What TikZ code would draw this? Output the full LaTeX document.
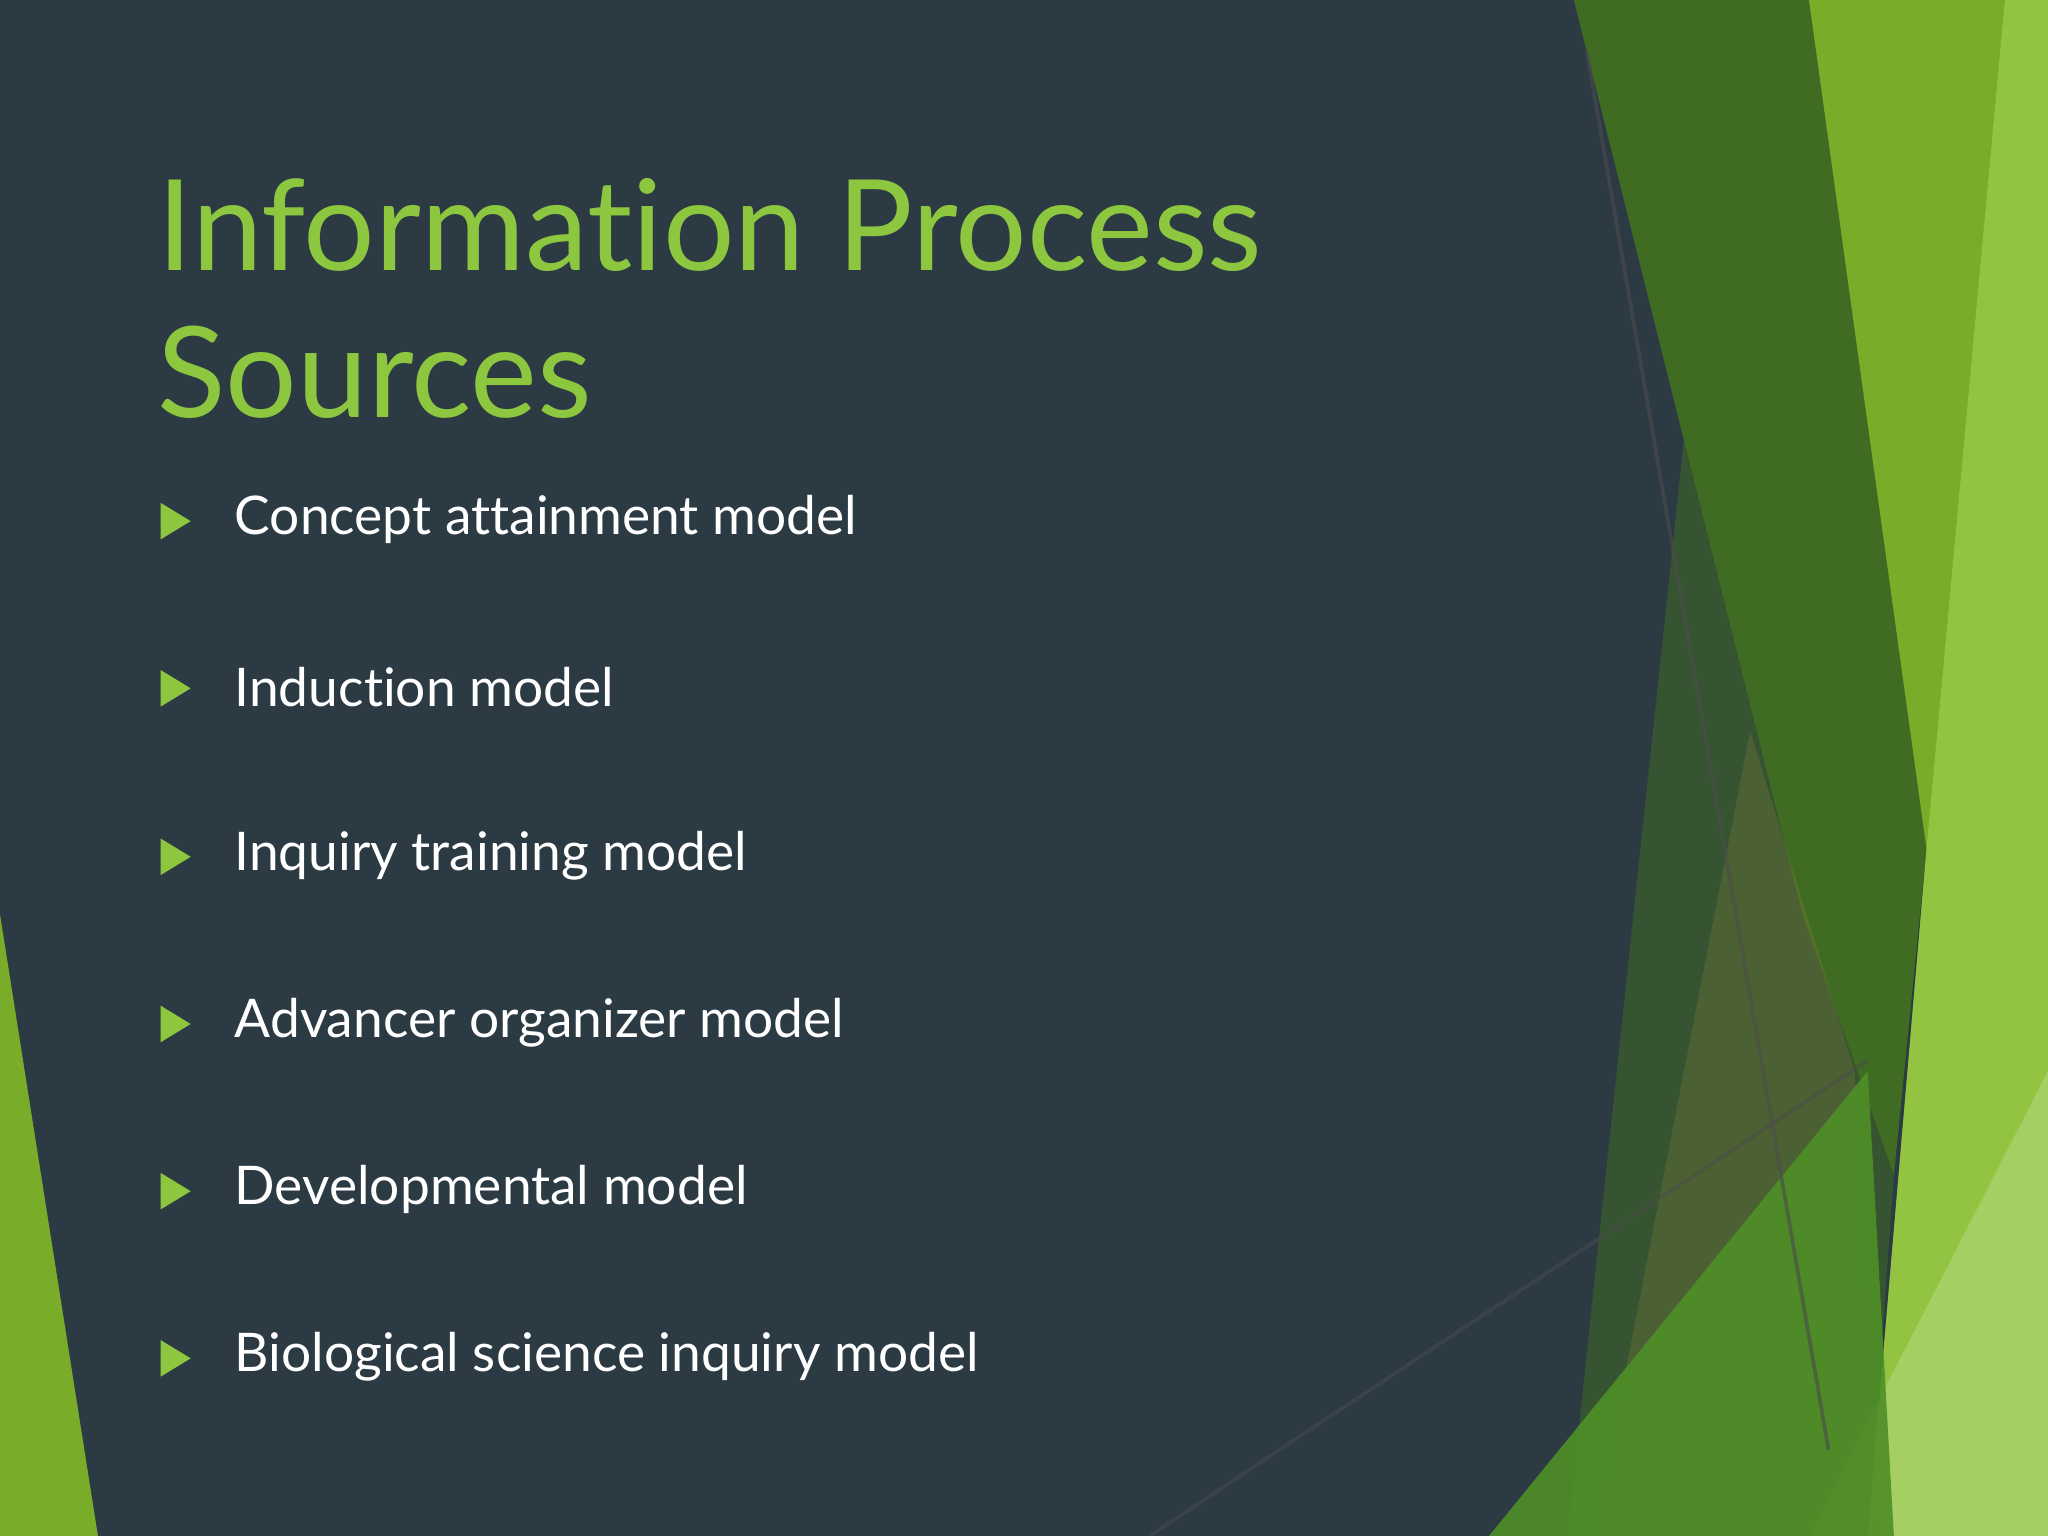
\documentclass[tikz,border=0pt]{standalone}
\usepackage{fontspec}
\setmainfont[Ligatures=NoCommon]{Lato}
\begin{document}
\begin{tikzpicture}[x=0.01cm,y=-0.01cm,
  item/.style={anchor=west,text=white,font=\fontsize{11.6}{14}\selectfont,inner sep=0pt},
  bul/.style={fill=bulgreen,draw=none}]
\definecolor{bg}{HTML}{2C3A44}
\definecolor{bulgreen}{HTML}{8DC63F}
\definecolor{dkg}{HTML}{3F6B22}
\definecolor{mdg}{HTML}{4F8F27}
\definecolor{ltg}{HTML}{79AC29}
\definecolor{vlg}{HTML}{92C441}
\fill[bg] (0,0) rectangle (1568,1176);
\useasboundingbox (0,0) rectangle (1568,1176);
% right decorations
\fill[dkg] (1205,0) -- (1390,0) -- (1475,650) -- (1450,900) -- (1380,700) -- cycle;
\fill[ltg] (1385,0) -- (1568,0) -- (1568,1176) -- (1430,1176) -- (1475,650) -- cycle;
\fill[vlg] (1535,0) -- (1568,0) -- (1568,1176) -- (1430,1176) -- (1475,650) -- cycle;
\fill[vlg!70!white,opacity=0.6] (1568,820) -- (1568,1176) -- (1385,1176) -- cycle;
\fill[dkg,opacity=0.55] (1290,330) -- (1380,700) -- (1450,900) -- (1430,1176) -- (1200,1176) -- cycle;
\fill[olive!60!gray,opacity=0.25] (1340,560) -- (1420,820) -- (1440,1176) -- (1220,1176) -- cycle;
\fill[mdg,opacity=0.9] (1140,1176) -- (1430,820) -- (1450,1176) -- cycle;
\fill[ltg] (0,700) -- (75,1176) -- (0,1176) -- cycle;
\draw[black!70,line width=0.8pt,opacity=0.6] (1215,40) -- (1400,1110);
\draw[black!70,line width=0.8pt,opacity=0.5] (880,1176) -- (1430,812);
% title
\node[anchor=base west,text=bulgreen,font=\fontsize{27.5}{32}\selectfont,inner sep=0pt] (title) at (120,207) {Information Process};
\node[anchor=base west,text=bulgreen,font=\fontsize{27.5}{32}\selectfont,inner sep=0pt] (title2) at (120,320) {Sources};
% bullets
\foreach \y/\t [count=\i] in {398/Concept attainment model,526/Induction model,655/Inquiry training model,783/Advancer organizer model,911/Developmental model,1039/Biological science inquiry model}{
  \fill[bul] (123,\y-13) -- (146,\y+1) -- (123,\y+15) -- cycle;
  \node[item] (it\i) at (179,\y) {\t};
}
\end{tikzpicture}
\end{document}
